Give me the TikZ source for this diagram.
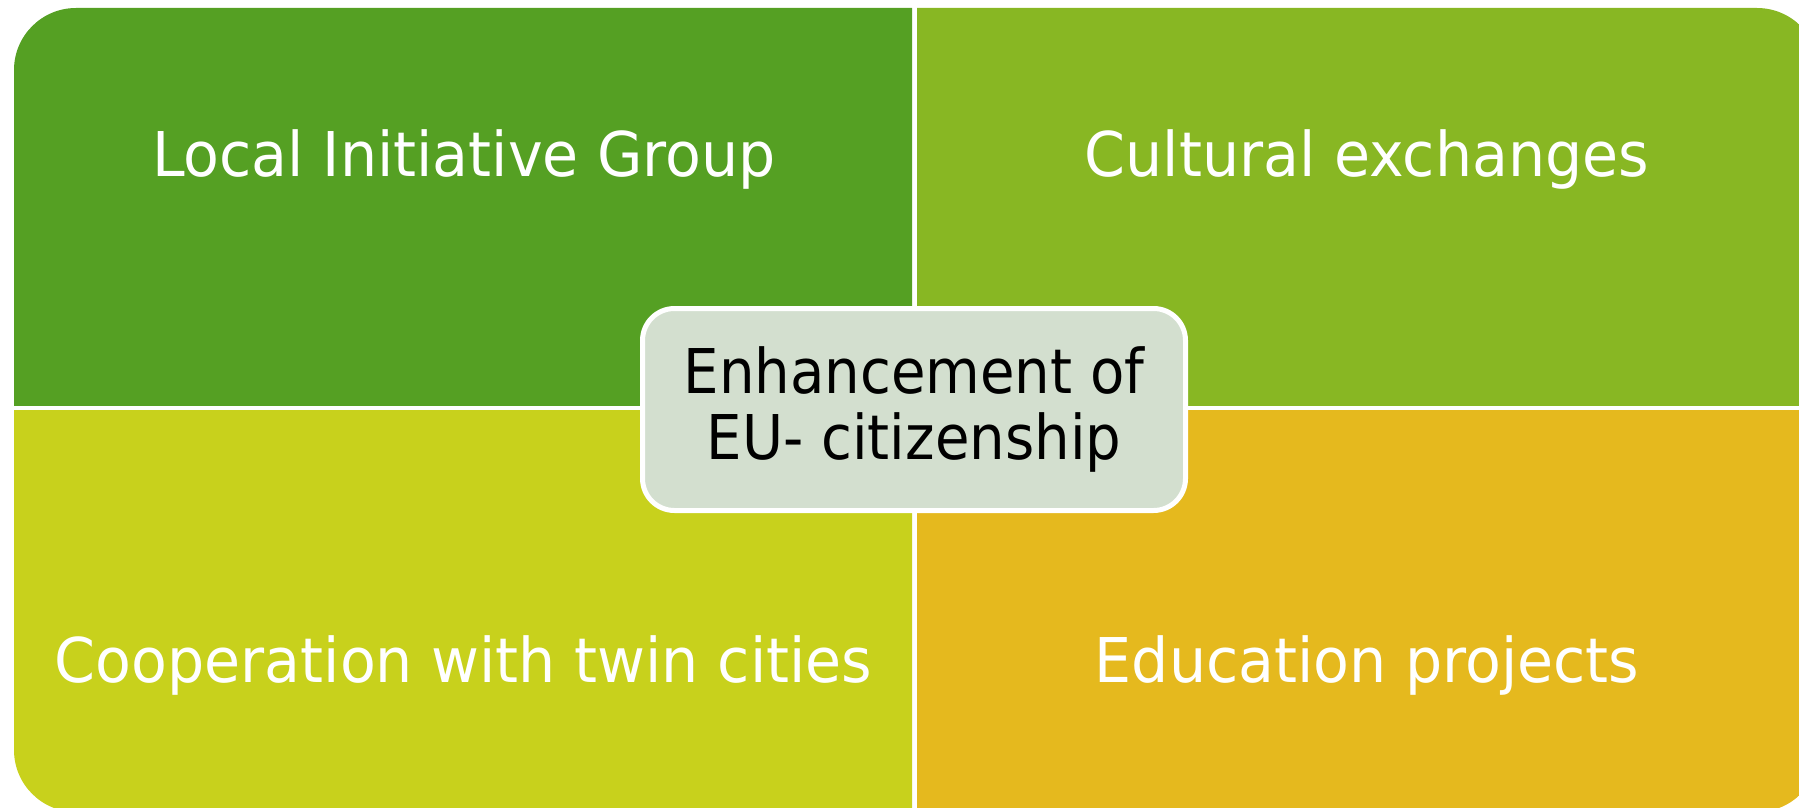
\documentclass[tikz,border=0pt]{standalone}
\usepackage{fontspec}
\newfontfamily\quadfont[FakeStretch=0.95]{DejaVu Sans}
\newfontfamily\centfont[FakeStretch=0.91]{DejaVu Sans}
\definecolor{cTL}{HTML}{55A023}
\definecolor{cTR}{HTML}{88B723}
\definecolor{cBL}{HTML}{C8D11C}
\definecolor{cBR}{HTML}{E5B91E}
\definecolor{cCore}{HTML}{D3DFCF}
\tikzset{
  quadtext/.style={anchor=base, text=white, inner sep=0pt, font=\quadfont\fontsize{61.7}{70}\selectfont},
  corebox/.style={draw=white, line width=5pt, fill=cCore, rounded corners=32pt, inner sep=0pt,
    minimum width=543pt, minimum height=202pt, align=center, text=black,
    font=\centfont\fontsize{61.7}{66}\selectfont}
}
\begin{document}
\begin{tikzpicture}[x=1pt,y=-1pt]
\useasboundingbox (0,0) rectangle (1799,808);
\clip (0,0) rectangle (1799,808);
% quadrants of one large rounded rectangle
\begin{scope}
  \clip (14,8) rectangle (912,405);
  \fill[cTL, rounded corners=62pt] (14,8) rectangle (1819,812);
\end{scope}
\begin{scope}
  \clip (917,8) rectangle (1819,405);
  \fill[cTR, rounded corners=62pt] (14,8) rectangle (1819,812);
\end{scope}
\begin{scope}
  \clip (14,410) rectangle (912,812);
  \fill[cBL, rounded corners=62pt] (14,8) rectangle (1819,812);
\end{scope}
\begin{scope}
  \clip (917,410) rectangle (1819,812);
  \fill[cBR, rounded corners=62pt] (14,8) rectangle (1819,812);
\end{scope}
% labels
\node[quadtext] (lig) at (464,176) {Local Initiative Group};
\node[quadtext] (cult) at (1367,176) {Cultural exchanges};
\node[quadtext] (coop) at (463.5,682) {Cooperation with twin cities};
\node[quadtext] (edu) at (1367,682) {Education projects};
% center
\node[corebox] (core) at (914,409.5) {Enhancement of\\EU- citizenship};
\end{tikzpicture}
\end{document}
